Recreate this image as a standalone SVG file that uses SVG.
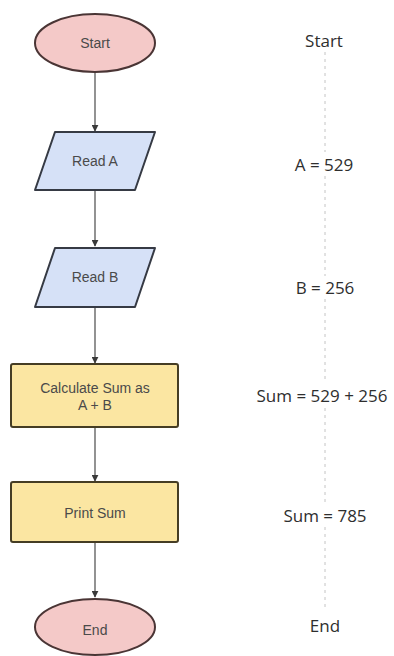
<svg xmlns="http://www.w3.org/2000/svg" width="394" height="656" viewBox="0 0 394 656">
  <style>
    .term { fill: #f4c9c8; stroke: #4a3535; stroke-width: 2; }
    .io { fill: #d6e1f7; stroke: #363a44; stroke-width: 2; stroke-linejoin: round; }
    .proc { fill: #fbe6a2; stroke: #453d24; stroke-width: 2; }
    .lbl { font-family: "Liberation Sans", Arial, sans-serif; font-size: 14px; fill: #4a4a4a; text-anchor: middle; dominant-baseline: central; }
    .val { font-family: "Open Sans", "DejaVu Sans", sans-serif; font-size: 17px; fill: #2e2e2e; text-anchor: middle; dominant-baseline: central; }
    .flow { stroke: #4a4a4a; stroke-width: 1.2; fill: none; marker-end: url(#arrow); }
    .trace { stroke: #c4c4c4; stroke-width: 1; stroke-dasharray: 3 4; fill: none; }
  </style>
  <defs>
    <marker id="arrow" viewBox="0 0 10 10" refX="9" refY="5" markerWidth="7" markerHeight="7" orient="auto" markerUnits="userSpaceOnUse">
      <path d="M0,0 L10,5 L0,10 z" fill="#3a3a3a"/>
    </marker>
  </defs>
  <rect width="394" height="656" fill="#ffffff"/>

  <!-- flow connectors -->
  <g id="connectors">
    <line class="flow" x1="95" y1="72" x2="95" y2="131"/>
    <line class="flow" x1="95" y1="190" x2="95" y2="246"/>
    <line class="flow" x1="95" y1="307" x2="95" y2="363"/>
    <line class="flow" x1="95" y1="427" x2="95" y2="481"/>
    <line class="flow" x1="95" y1="542" x2="95" y2="597"/>
  </g>

  <g id="start">
    <ellipse class="term" cx="95" cy="43" rx="60" ry="29"/>
    <text class="lbl" x="95" y="43">Start</text>
  </g>
  <g id="read-a">
    <polygon class="io" points="55,132 155,132 135,190 35,190"/>
    <text class="lbl" x="95" y="161">Read A</text>
  </g>
  <g id="read-b">
    <polygon class="io" points="55,248 155,248 135,307 35,307"/>
    <text class="lbl" x="95" y="277">Read B</text>
  </g>
  <g id="calculate">
    <rect class="proc" x="11" y="364" width="167" height="63" rx="2"/>
    <text class="lbl" x="95" y="388">Calculate Sum as</text>
    <text class="lbl" x="95" y="405">A + B</text>
  </g>
  <g id="print">
    <rect class="proc" x="11" y="482" width="167" height="60" rx="2"/>
    <text class="lbl" x="95" y="513">Print Sum</text>
  </g>
  <g id="end">
    <ellipse class="term" cx="95" cy="627" rx="60" ry="28"/>
    <text class="lbl" x="95" y="630">End</text>
  </g>

  <!-- value trace column -->
  <g id="trace-line">
    <line class="trace" x1="325" y1="52" x2="325" y2="152"/>
    <line class="trace" x1="325" y1="176" x2="325" y2="276"/>
    <line class="trace" x1="325" y1="299" x2="325" y2="382"/>
    <line class="trace" x1="325" y1="408" x2="325" y2="503"/>
    <line class="trace" x1="325" y1="527" x2="325" y2="610"/>
  </g>
  <g id="trace-values">
    <text class="val" x="324" y="40">Start</text>
    <text class="val" x="324" y="164">A = 529</text>
    <text class="val" x="325" y="287">B = 256</text>
    <text class="val" x="322" y="395">Sum = 529 + 256</text>
    <text class="val" x="325" y="515">Sum = 785</text>
    <text class="val" x="325" y="625">End</text>
  </g>
</svg>
